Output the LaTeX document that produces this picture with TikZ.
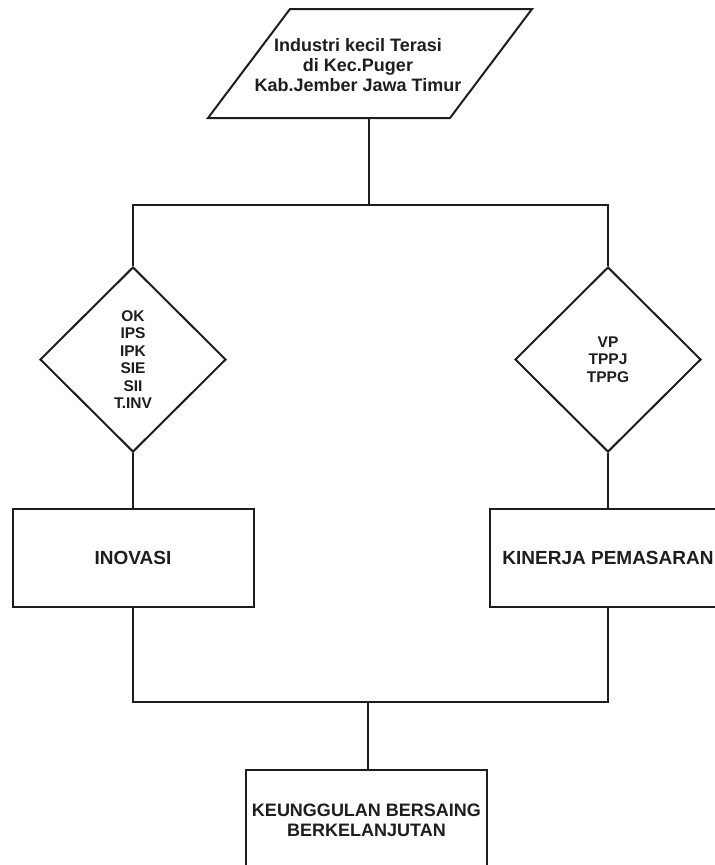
\documentclass[tikz,border=0pt]{standalone}
\usepackage{fontspec}
\setmainfont{Liberation Sans}
\usetikzlibrary{shapes.geometric}
\definecolor{ink}{HTML}{1E1E1E}
\begin{document}
\begin{tikzpicture}[x=1pt,y=-1pt, line width=2pt, draw=ink, text=ink,
  lbl/.style={font=\bfseries\fontsize{18}{20}\selectfont, align=center, inner sep=0pt},
  dtxt/.style={font=\bfseries\fontsize{15.5}{17.5}\selectfont, align=center},
  dia/.style={draw=ink, diamond, minimum width=186pt, minimum height=185pt, inner sep=0pt, dtxt},
  boxnode/.style={draw=ink, rectangle, inner sep=0pt, lbl},
  conn/.style={draw=ink, line width=2pt}]
\useasboundingbox (0,0) rectangle (715,865);
\fill[white] (0,0) rectangle (715,865);

% input parallelogram
\draw[line join=miter] (290,9) -- (532,9) -- (450,118) -- (208,118) -- cycle;
\node[lbl] (top) at (358,65) {Industri kecil Terasi\\di Kec.Puger\\Kab.Jember Jawa Timur};
\coordinate (pb) at (369,118);
\coordinate (j1) at (369,205);

% diamonds
\node[dia] (dl) at (133,359.5) {OK\\IPS\\IPK\\SIE\\SII\\T.INV};
\node[dia] (dr) at (608,359.5) {VP\\TPPJ\\TPPG};

% boxes
\node[boxnode, minimum width=241pt, minimum height=98pt, font=\bfseries\fontsize{19}{21}\selectfont] (bl) at (133,558) {INOVASI};
\node[boxnode, minimum width=236pt, minimum height=98pt, font=\bfseries\fontsize{19}{21}\selectfont] (br) at (608,558) {KINERJA PEMASARAN};
\node[boxnode, minimum width=241pt, minimum height=100pt] (bb) at (366.5,820) {KEUNGGULAN BERSAING\\BERKELANJUTAN};
\coordinate (j2) at (368,702);

% connectors
\draw[conn] (pb) -- (j1);
\draw[conn] (dl.north) |- (j1) -| (dr.north);
\draw[conn] (dl.south) -- (bl.north);
\draw[conn] (dr.south) -- (br.north);
\draw[conn] (bl.south) |- (j2) -| (br.south);
\draw[conn] (j2) -- (j2 |- bb.north);
\end{tikzpicture}
\end{document}
